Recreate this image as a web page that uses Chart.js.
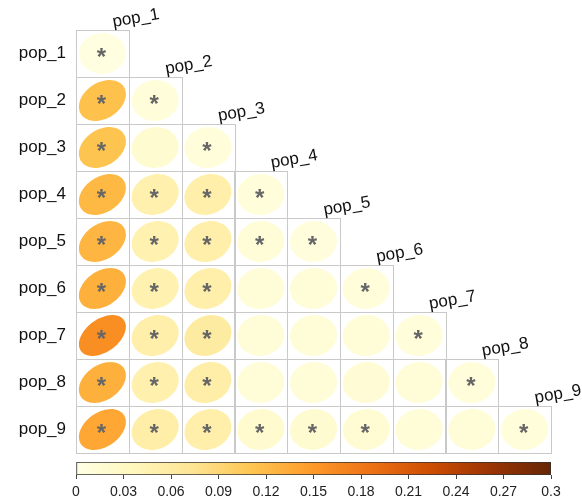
<!DOCTYPE html>
<html>
<head>
<meta charset="utf-8">
<script src="https://cdn.jsdelivr.net/npm/chart.js@4.4.1/dist/chart.umd.min.js"></script>
<style>
  body { margin: 0; background: #fff; }
  #wrap { position: relative; width: 582px; height: 502px; }
  #wrap canvas { position: absolute; left: 0; }
</style>
</head>
<body>
<div id="wrap">
  <canvas id="corr" width="582" height="502" style="top:0"></canvas>
  <canvas id="bar" width="582" height="52" style="top:450px"></canvas>
</div>
<script>
// populations (rows and columns)
const pops = ["pop_1", "pop_2", "pop_3", "pop_4", "pop_5", "pop_6", "pop_7", "pop_8", "pop_9"];

// pairwise values, lower triangle, one list per row
const fst = [
  [0.005],
  [0.115, 0.010],
  [0.112, 0.018, 0.010],
  [0.122, 0.050, 0.053, 0.010],
  [0.126, 0.048, 0.052, 0.012, 0.008],
  [0.130, 0.048, 0.053, 0.012, 0.012, 0.010],
  [0.160, 0.053, 0.060, 0.012, 0.012, 0.012, 0.010],
  [0.130, 0.050, 0.055, 0.012, 0.012, 0.015, 0.012, 0.010],
  [0.138, 0.055, 0.052, 0.020, 0.018, 0.016, 0.012, 0.012, 0.010]
];

// significance star per cell (same shape)
const signif = [
  [1],
  [1, 1],
  [1, 0, 1],
  [1, 1, 1, 1],
  [1, 1, 1, 1, 1],
  [1, 1, 1, 0, 0, 1],
  [1, 1, 1, 0, 0, 0, 1],
  [1, 1, 1, 0, 0, 0, 0, 1],
  [1, 1, 1, 1, 1, 1, 0, 0, 1]
];

// colour legend
const colLim = [0, 0.3];
const cbTicks = [0, 0.03, 0.06, 0.09, 0.12, 0.15, 0.18, 0.21, 0.24, 0.27, 0.3];
const cbLabels = ["0", "0.03", "0.06", "0.09", "0.12", "0.15", "0.18", "0.21", "0.24", "0.27", "0.3"];

const palette = ["#FFFFE5", "#FFF7BC", "#FEE391", "#FEC44F", "#FE9929", "#EC7014", "#CC4C02", "#993404", "#662506"];
const FONT = "'Liberation Sans', Arial, sans-serif";

function hexRgb(h) {
  return [1, 3, 5].map(i => parseInt(h.slice(i, i + 2), 16));
}
function colourFor(v) {
  let t = (v - colLim[0]) / (colLim[1] - colLim[0]);
  t = Math.max(0, Math.min(1, t)) * (palette.length - 1);
  const i = Math.min(Math.floor(t), palette.length - 2);
  const f = t - i;
  const a = hexRgb(palette[i]), b = hexRgb(palette[i + 1]);
  const c = a.map((x, k) => Math.round(x + (b[k] - x) * f));
  return `rgb(${c[0]},${c[1]},${c[2]})`;
}

// one point per lower-triangle cell
const cells = [];
fst.forEach((row, i) => row.forEach((v, j) => {
  cells.push({ x: j + 1, y: i + 1, v: v, s: signif[i][j] });
}));

const corrPlugin = {
  id: "corrCells",
  afterDatasetsDraw(chart) {
    const { ctx, scales: { x, y } } = chart;
    const w = x.getPixelForValue(1.5) - x.getPixelForValue(0.5);
    const h = y.getPixelForValue(1.5) - y.getPixelForValue(0.5);
    const meta = chart.getDatasetMeta(0);
    ctx.save();

    // ellipses (tilt grows with the value)
    meta.data.forEach((el, n) => {
      const c = cells[n];
      const rho = 0.8 * Math.max(0, Math.min(1, (c.v - colLim[0]) / (colLim[1] - colLim[0])));
      const a = Math.acos(rho) / 2;
      ctx.beginPath();
      for (let k = 0; k <= 72; k++) {
        const t = k / 72 * Math.PI * 2;
        const ux = Math.cos(t + a) / 2, uy = Math.cos(t - a) / 2;
        const px = el.x + ux * w * 0.89, py = el.y - uy * h * 0.87;
        if (k === 0) ctx.moveTo(px, py); else ctx.lineTo(px, py);
      }
      ctx.closePath();
      ctx.fillStyle = colourFor(c.v);
      ctx.fill();
    });

    // cell borders
    ctx.strokeStyle = "#c9c9c9";
    ctx.lineWidth = 1;
    meta.data.forEach(el => {
      ctx.strokeRect(Math.round(el.x - w / 2) + 0.5, Math.round(el.y - h / 2) + 0.5, Math.round(w), Math.round(h));
    });

    // stars
    ctx.fillStyle = "#666";
    ctx.font = "bold 24px " + FONT;
    ctx.textAlign = "center";
    ctx.textBaseline = "alphabetic";
    meta.data.forEach((el, n) => {
      if (cells[n].s) ctx.fillText("*", el.x - 1, el.y + 11);
    });

    // column labels above the diagonal
    ctx.fillStyle = "#111";
    ctx.font = "17px " + FONT;
    ctx.textAlign = "left";
    pops.forEach((p, k) => {
      const top = y.getPixelForValue(k + 0.5);
      const cx = x.getPixelForValue(k + 1);
      ctx.save();
      ctx.translate(cx + 11, top - 3);
      ctx.rotate(-10 * Math.PI / 180);
      ctx.fillText(p, 0, 0);
      ctx.restore();
    });
    ctx.restore();
  }
};

new Chart(document.getElementById("corr"), {
  type: "scatter",
  data: {
    datasets: [{ data: cells, pointRadius: 0, pointHoverRadius: 0 }]
  },
  options: {
    responsive: false,
    animation: false,
    layout: { padding: { left: 0, right: 31, top: 30, bottom: 49 } },
    plugins: { legend: { display: false }, tooltip: { enabled: false } },
    scales: {
      x: { type: "linear", min: 0.5, max: 9.5, display: false },
      y: {
        type: "linear", min: 0.5, max: 9.5, reverse: true,
        grid: { display: false, drawTicks: false },
        border: { display: false },
        afterBuildTicks: s => { s.ticks = pops.map((p, i) => ({ value: i + 1 })); },
        afterFit: s => { s.width = 76; },
        ticks: {
          padding: 10, color: "#111",
          font: { family: FONT, size: 17 },
          callback: (v, i) => pops[i]
        }
      }
    }
  },
  plugins: [corrPlugin]
});

// colour bar
new Chart(document.getElementById("bar"), {
  type: "bar",
  data: {
    labels: ["scale"],
    datasets: [{
      data: [colLim[1]],
      base: colLim[0],
      borderColor: "#333",
      borderWidth: 1,
      borderSkipped: false,
      categoryPercentage: 1,
      barPercentage: 1,
      backgroundColor: c => {
        const xs = c.chart.scales.x;
        const x0 = xs ? xs.getPixelForValue(colLim[0]) : NaN;
        const x1 = xs ? xs.getPixelForValue(colLim[1]) : NaN;
        if (!isFinite(x0) || !isFinite(x1)) return palette[0];
        const g = c.chart.ctx.createLinearGradient(x0, 0, x1, 0);
        palette.forEach((col, i) => g.addColorStop(i / (palette.length - 1), col));
        return g;
      }
    }]
  },
  options: {
    indexAxis: "y",
    responsive: false,
    animation: false,
    layout: { padding: { left: 76, right: 31, top: 12, bottom: 0 } },
    plugins: { legend: { display: false }, tooltip: { enabled: false } },
    scales: {
      y: { display: false },
      x: {
        min: colLim[0], max: colLim[1],
        grid: { drawOnChartArea: false, tickLength: 4, color: "#444" },
        border: { display: false },
        afterBuildTicks: s => { s.ticks = cbTicks.map(v => ({ value: v })); },
        afterFit: s => { s.height = 27; },
        ticks: {
          autoSkip: false, maxRotation: 0, padding: 5, color: "#222",
          font: { family: FONT, size: 14 },
          callback: (v, i) => cbLabels[i]
        }
      }
    }
  }
});
</script>
</body>
</html>
